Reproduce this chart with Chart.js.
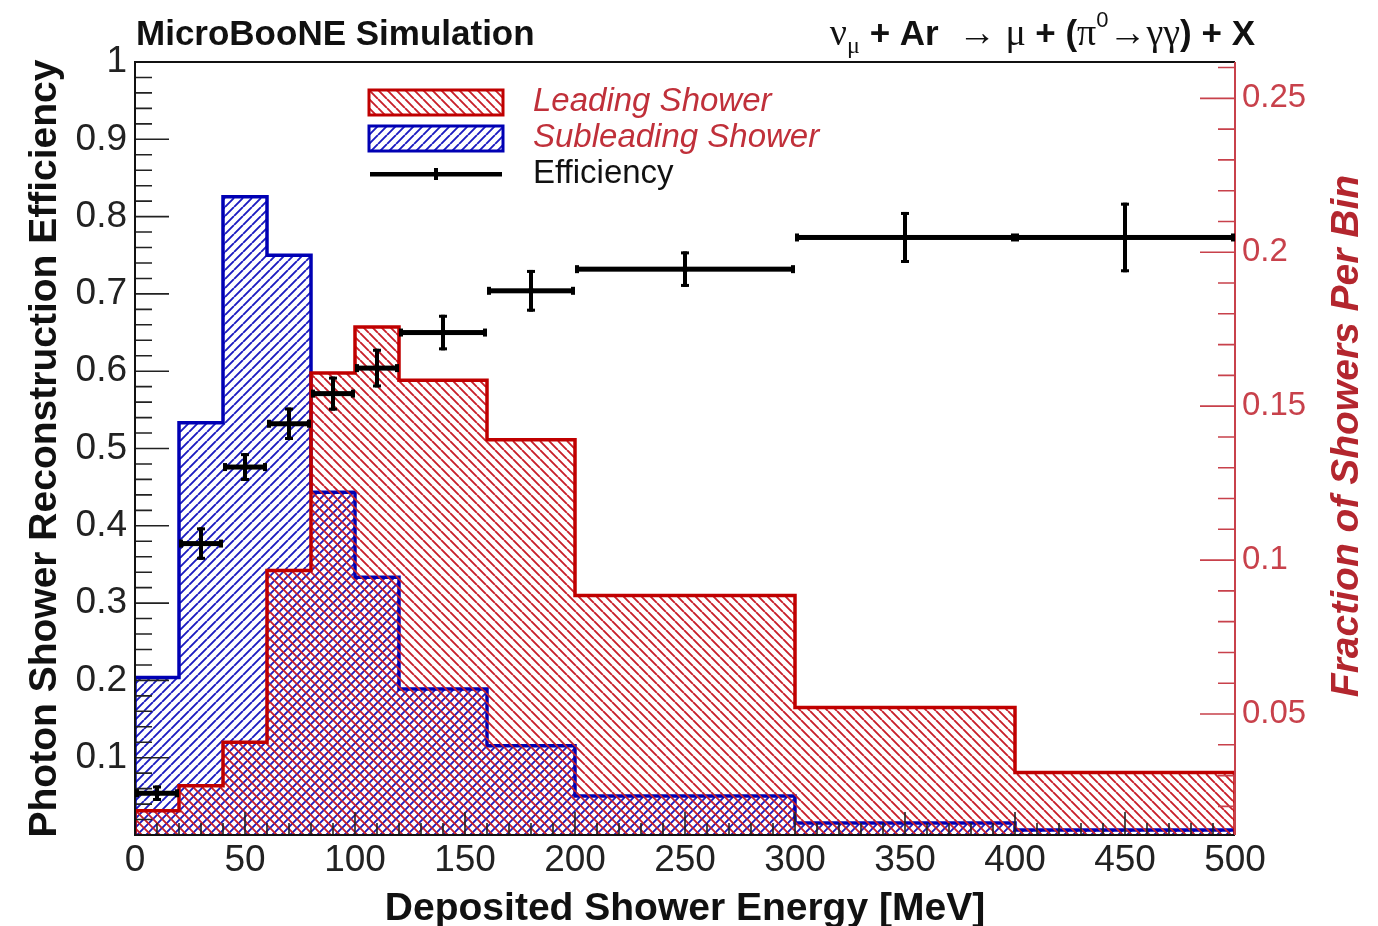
<!DOCTYPE html>
<html>
<head>
<meta charset="utf-8">
<title>Photon shower reconstruction efficiency</title>
<script src="https://cdn.jsdelivr.net/npm/chart.js@4.4.1/dist/chart.umd.min.js"></script>
<style>
  html, body { margin: 0; padding: 0; background: #fff; }
  #wrap { width: 1378px; height: 926px; }
</style>
</head>
<body>
<div id="wrap"><canvas id="effChart" width="1378" height="926"></canvas></div>
<script>
// bin edges in MeV, shared by both histograms and the efficiency points
const binEdges = [0, 20, 40, 60, 80, 100, 120, 160, 200, 300, 400, 500];
// fraction of showers per bin (right axis)
const leadingShower = [0.0186, 0.0267, 0.0408, 0.0966, 0.1608, 0.1757, 0.1584, 0.1391, 0.0885, 0.0521, 0.0310];
const subleadingShower = [0.0619, 0.1446, 0.2180, 0.1990, 0.1220, 0.0944, 0.0581, 0.0397, 0.0234, 0.0146, 0.0123];
// reconstruction efficiency (left axis)
const effEnergy = [10, 30, 50, 70, 90, 110, 140, 180, 250, 350, 450];
const efficiency = [0.054, 0.377, 0.476, 0.532, 0.571, 0.604, 0.650, 0.704, 0.732, 0.773, 0.773];
const efficiencyErr = [0.010, 0.021, 0.018, 0.021, 0.022, 0.025, 0.023, 0.027, 0.023, 0.033, 0.045];
// tick labels
const energyTicks = [0, 50, 100, 150, 200, 250, 300, 350, 400, 450, 500];
const effTicks = [0.1, 0.2, 0.3, 0.4, 0.5, 0.6, 0.7, 0.8, 0.9, 1];
const fracTicks = [0.05, 0.1, 0.15, 0.2, 0.25];

const FRAC_MIN = 0.0107, FRAC_MAX = 0.2618;
const RED = '#c00000', BLUE = '#0000b4', AXIS_RED = '#c8414b';
const SANS = '"Liberation Sans", Arial, Helvetica, sans-serif';
const SERIF = '"Liberation Serif", "DejaVu Serif", serif';

function hatch(color, dir) {
    const p = 9;
    const c = document.createElement('canvas');
    c.width = p; c.height = p;
    const g = c.getContext('2d');
    g.strokeStyle = color;
    g.lineWidth = 1.9;
    g.beginPath();
    for (let k = -1; k <= 1; k++) {
        if (dir === '/') { g.moveTo(k * p, p); g.lineTo(k * p + p, 0); }
        else { g.moveTo(k * p, 0); g.lineTo(k * p + p, p); }
    }
    g.stroke();
    return g.createPattern(c, 'repeat');
}

// step outline of a histogram, closed down to the bottom of the axis
function histPoints(values) {
    const last = binEdges[binEdges.length - 1];
    const pts = [{ x: binEdges[0], y: FRAC_MIN }];
    values.forEach((v, i) => pts.push({ x: binEdges[i], y: v }));
    pts.push({ x: last, y: values[values.length - 1] });
    pts.push({ x: last, y: FRAC_MIN });
    return pts;
}

const fmt = v => String(Number(Number(v).toFixed(2)));

// ticks inside the frame, ROOT style
const frameTicks = {
    id: 'frameTicks',
    afterDatasetsDraw(chart) {
        const { ctx, chartArea: a, scales } = chart;
        ctx.save();
        ctx.lineWidth = 1.6;
        ctx.strokeStyle = '#222';
        ctx.beginPath();
        for (let i = 0; i <= 50; i++) {
            const px = scales.x.getPixelForValue(i * 10);
            const len = i % 5 === 0 ? 23 : 12;
            ctx.moveTo(px, a.bottom); ctx.lineTo(px, a.bottom - len);
        }
        for (let i = 0; i <= 50; i++) {
            const py = scales.y.getPixelForValue(i * 0.02);
            const len = i % 5 === 0 ? 34 : 17;
            ctx.moveTo(a.left, py); ctx.lineTo(a.left + len, py);
        }
        ctx.stroke();

        ctx.strokeStyle = AXIS_RED;
        ctx.beginPath();
        for (let i = 2; i <= 26; i++) {
            const py = scales.y2.getPixelForValue(i * 0.01);
            const len = i % 5 === 0 ? 35 : 17;
            ctx.moveTo(a.right, py); ctx.lineTo(a.right - len, py);
        }
        ctx.stroke();

        // frame
        ctx.lineWidth = 2;
        ctx.strokeStyle = '#111';
        ctx.beginPath();
        ctx.moveTo(a.right, a.top); ctx.lineTo(a.left, a.top);
        ctx.lineTo(a.left, a.bottom); ctx.lineTo(a.right, a.bottom);
        ctx.stroke();
        ctx.strokeStyle = AXIS_RED;
        ctx.beginPath();
        ctx.moveTo(a.right, a.top); ctx.lineTo(a.right, a.bottom);
        ctx.stroke();
        ctx.restore();
    }
};

// efficiency error bars: bin width in x, stat error in y
const errorBars = {
    id: 'errorBars',
    afterDatasetsDraw(chart) {
        const { ctx, scales } = chart;
        ctx.save();
        ctx.fillStyle = '#000';
        effEnergy.forEach((e, i) => {
            const x0 = scales.x.getPixelForValue(binEdges[i]);
            const x1 = scales.x.getPixelForValue(binEdges[i + 1]);
            const cx = scales.x.getPixelForValue(e);
            const cy = scales.y.getPixelForValue(efficiency[i]);
            const yHi = scales.y.getPixelForValue(efficiency[i] + efficiencyErr[i]);
            const yLo = scales.y.getPixelForValue(efficiency[i] - efficiencyErr[i]);
            ctx.fillRect(x0, cy - 2.5, x1 - x0, 5);
            ctx.fillRect(x0, cy - 4, 4, 8);
            ctx.fillRect(x1 - 4, cy - 4, 4, 8);
            ctx.fillRect(cx - 2, yHi, 4, yLo - yHi);
            ctx.fillRect(cx - 4, yHi, 8, 3);
            ctx.fillRect(cx - 4, yLo - 3, 8, 3);
        });
        ctx.restore();
    }
};

const legendAndLabels = {
    id: 'legendAndLabels',
    afterDraw(chart) {
        const { ctx } = chart;
        const ds = chart.data.datasets;
        ctx.save();

        // legend
        const boxes = [[ds[1], 90], [ds[2], 126]];
        boxes.forEach(([d, y]) => {
            ctx.fillStyle = d.backgroundColor;
            ctx.fillRect(369, y, 134, 25);
            ctx.lineWidth = 3;
            ctx.strokeStyle = d.borderColor;
            ctx.strokeRect(369, y, 134, 25);
        });
        ctx.fillStyle = '#000';
        ctx.fillRect(370, 172, 132, 4.5);
        ctx.fillRect(434, 168, 4, 12);

        ctx.textBaseline = 'middle';
        ctx.textAlign = 'left';
        ctx.font = 'italic 33px ' + SANS;
        ctx.fillStyle = '#c0303a';
        ctx.fillText(ds[1].label, 533, 102);
        ctx.fillText(ds[2].label, 533, 138);
        ctx.font = '33px ' + SANS;
        ctx.fillStyle = '#111';
        ctx.fillText(ds[0].label, 533, 174);

        // header
        ctx.textBaseline = 'alphabetic';
        ctx.font = 'bold 35px ' + SANS;
        ctx.fillText('MicroBooNE Simulation', 136, 45);

        const parts = [
            ['\u03BD', '38px ' + SERIF, 0],
            ['\u03BC', '24px ' + SERIF, 8],
            [' + Ar ', 'bold 35px ' + SANS, 0],
            [' \u2192 ', '38px ' + SERIF, 0],
            ['\u03BC ', '38px ' + SERIF, 0],
            ['+ (', 'bold 35px ' + SANS, 0],
            ['\u03C0', '38px ' + SERIF, 0],
            ['0', '22px ' + SANS, -18],
            ['\u2192\u03B3\u03B3', '38px ' + SERIF, 0],
            [') + X', 'bold 35px ' + SANS, 0]
        ];
        let total = 0;
        parts.forEach(([t, f]) => { ctx.font = f; total += ctx.measureText(t).width; });
        let x = 1255 - total;
        parts.forEach(([t, f, dy]) => {
            ctx.font = f;
            ctx.fillText(t, x, 45 + dy);
            x += ctx.measureText(t).width;
        });

        // right axis title, reading bottom to top
        ctx.translate(1347, 436);
        ctx.rotate(-Math.PI / 2);
        ctx.textAlign = 'center';
        ctx.textBaseline = 'middle';
        ctx.font = 'italic bold 39px ' + SANS;
        ctx.fillStyle = '#b3262e';
        ctx.fillText('Fraction of Showers Per Bin', 0, 0);
        ctx.restore();
    }
};

document.addEventListener('DOMContentLoaded', () => {
    const ctx = document.getElementById('effChart');
    new Chart(ctx, {
        type: 'line',
        data: {
            datasets: [
                {
                    type: 'scatter',
                    label: 'Efficiency',
                    data: effEnergy.map((e, i) => ({ x: e, y: efficiency[i] })),
                    yAxisID: 'y',
                    pointRadius: 3,
                    pointBackgroundColor: '#000',
                    pointBorderWidth: 0,
                    showLine: false
                },
                {
                    label: 'Leading Shower',
                    data: histPoints(leadingShower),
                    yAxisID: 'y2',
                    stepped: true,
                    borderColor: RED,
                    borderWidth: 3.5,
                    backgroundColor: hatch('#c8202a', '\\'),
                    fill: 'start',
                    pointRadius: 0
                },
                {
                    label: 'Subleading Shower',
                    data: histPoints(subleadingShower),
                    yAxisID: 'y2',
                    stepped: true,
                    borderColor: BLUE,
                    borderWidth: 3.5,
                    backgroundColor: hatch('#1c1cc0', '/'),
                    fill: 'start',
                    pointRadius: 0
                }
            ]
        },
        options: {
            responsive: false,
            animation: false,
            events: [],
            layout: { padding: { top: 62, left: 0, right: 0, bottom: 0 } },
            plugins: { legend: { display: false }, tooltip: { enabled: false } },
            scales: {
                x: {
                    type: 'linear',
                    min: 0,
                    max: 500,
                    grid: { display: false, drawTicks: false },
                    border: { display: false },
                    afterBuildTicks: s => { s.ticks = energyTicks.map(v => ({ value: v })); },
                    afterFit: s => { s.height = 91; },
                    ticks: { autoSkip: false, maxRotation: 0, padding: 4, color: '#222', callback: fmt,
                             font: { family: SANS, size: 37 } },
                    title: { display: true, text: 'Deposited Shower Energy [MeV]', color: '#111', padding: 0,
                             font: { family: SANS, size: 39, weight: 'bold', lineHeight: 0.85 } }
                },
                y: {
                    position: 'left',
                    min: 0,
                    max: 1,
                    grid: { display: false, drawTicks: false },
                    border: { display: false },
                    afterBuildTicks: s => { s.ticks = effTicks.map(v => ({ value: v })); },
                    afterFit: s => { s.width = 135; },
                    ticks: { autoSkip: false, padding: 8, color: '#222', callback: fmt,
                             font: { family: SANS, size: 37 } },
                    title: { display: true, text: 'Photon Shower Reconstruction Efficiency', color: '#111',
                             padding: { top: 22, bottom: 0 },
                             font: { family: SANS, size: 39, weight: 'bold' } }
                },
                y2: {
                    position: 'right',
                    min: FRAC_MIN,
                    max: FRAC_MAX,
                    grid: { display: false, drawTicks: false },
                    border: { display: false },
                    afterBuildTicks: s => { s.ticks = fracTicks.map(v => ({ value: v })); },
                    afterFit: s => { s.width = 143; },
                    ticks: { autoSkip: false, padding: 7, color: AXIS_RED, callback: fmt,
                             font: { family: SANS, size: 33 } }
                }
            }
        },
        plugins: [frameTicks, errorBars, legendAndLabels]
    });
});
</script>
</body>
</html>
